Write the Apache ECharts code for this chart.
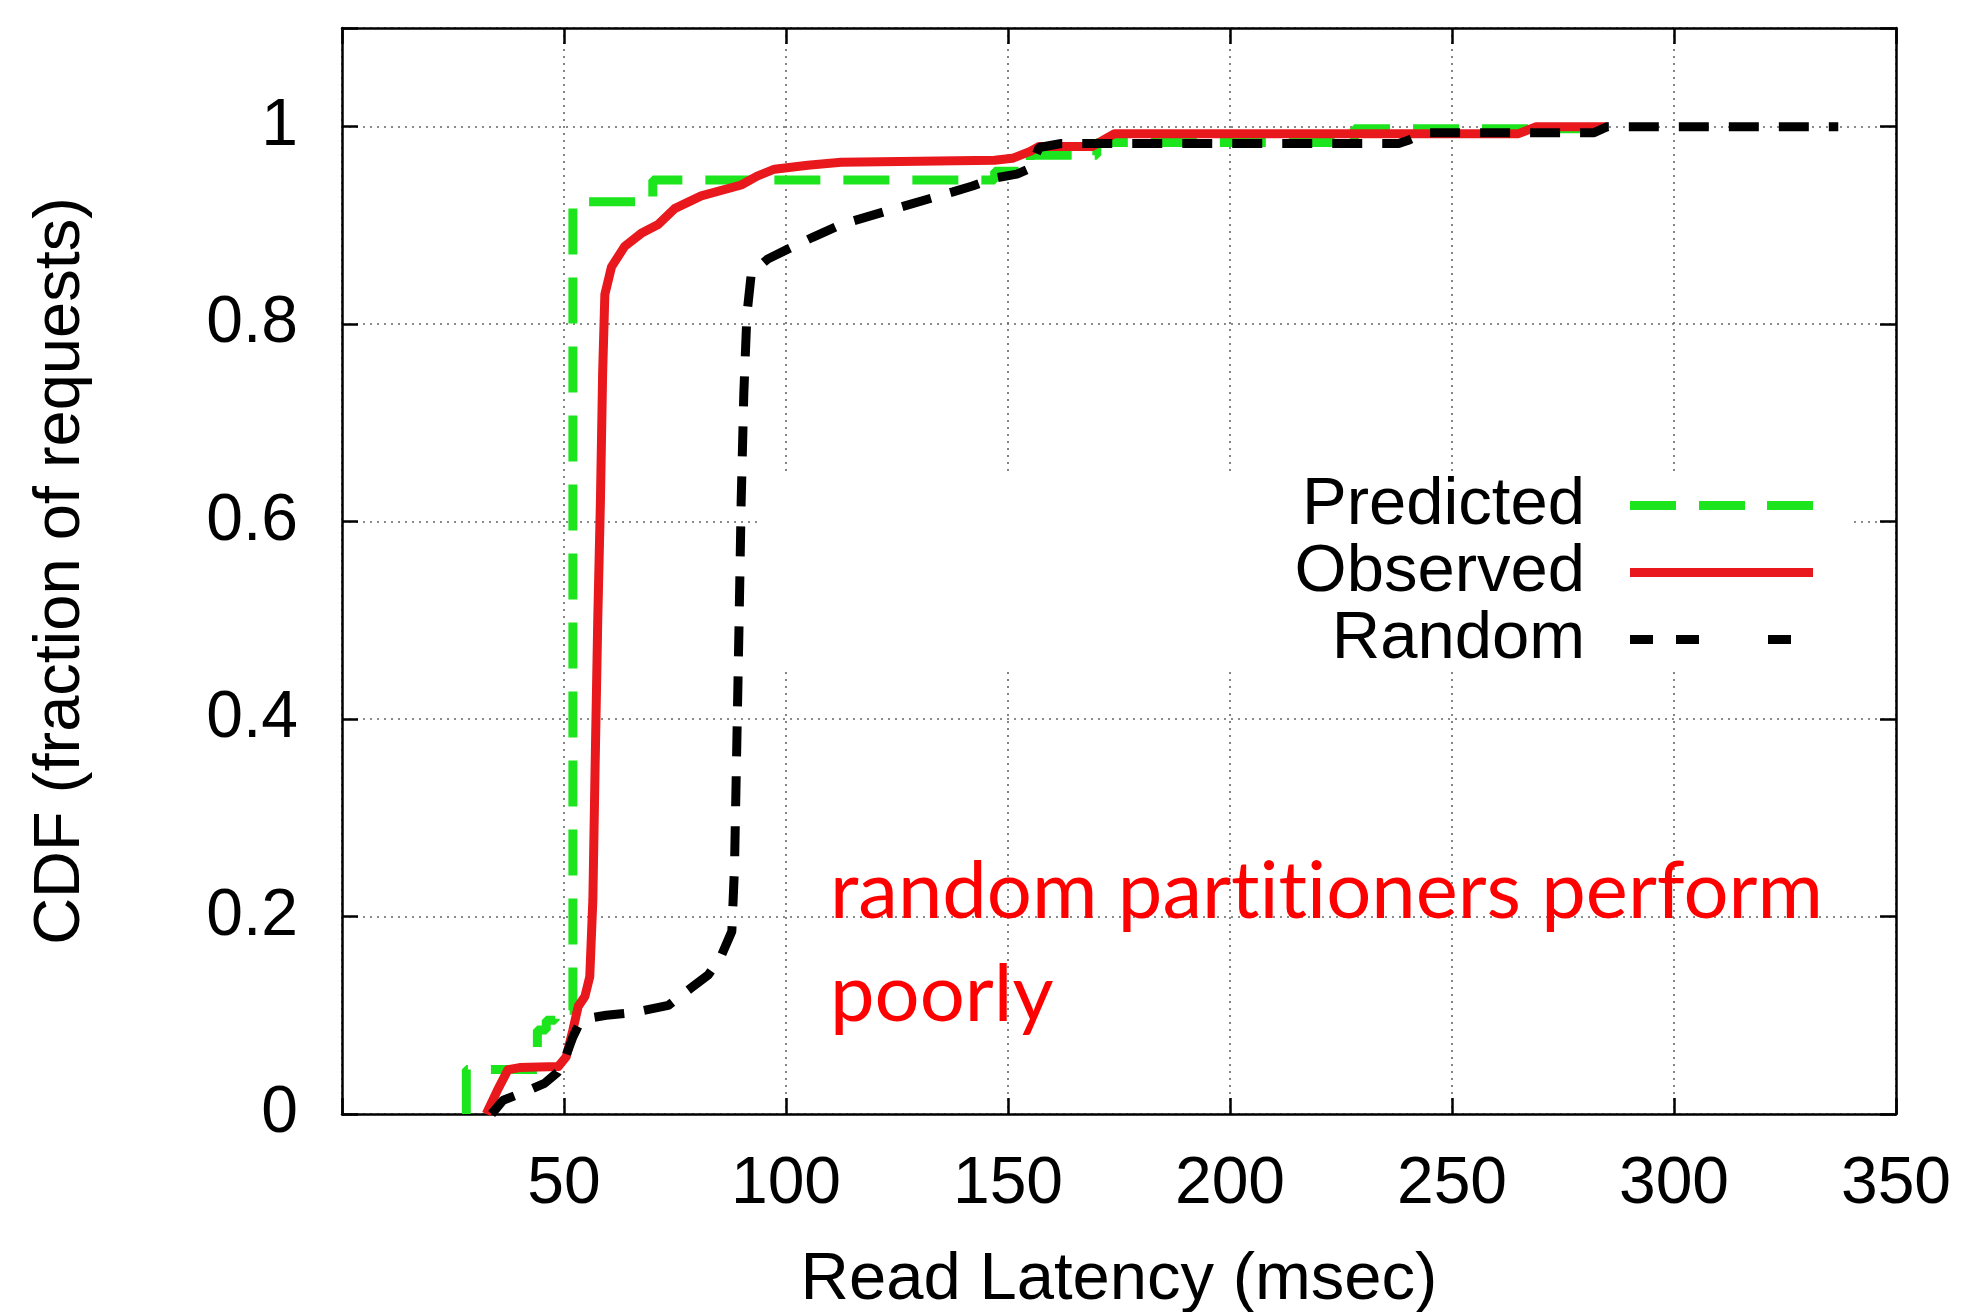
<!DOCTYPE html>
<html>
<head>
<meta charset="utf-8">
<title>CDF of read latency</title>
<script src="https://cdn.jsdelivr.net/npm/echarts@6/dist/echarts.min.js"></script>
<style>
    html, body { margin: 0; padding: 0; background: #fff; }
    #container { width: 1972px; height: 1312px; }
</style>
</head>
<body>
<div id="container"></div>
<script>
// CDF points: [latency msec, fraction]
var predicted = [[28,0],[28,0.045],[44,0.045],[44,0.085],[46,0.085],[46,0.095],[48,0.095],[48,0.105],
    [52,0.105],[52,0.924],[70,0.924],[70,0.946],[147,0.946],[147,0.955],[155,0.955],[155,0.971],
    [170,0.971],[170,0.984],[228,0.984],[228,0.998],[283,0.998]];

var observed = [[32.5,0],[35,0.024],[37.4,0.045],[40,0.047],[48.7,0.048],[50.5,0.058],[52,0.085],
    [53.2,0.109],[54.7,0.119],[55.8,0.139],[56.5,0.217],[57,0.35],[57.6,0.5],[58.2,0.62],[58.7,0.75],
    [59.2,0.83],[60.7,0.858],[63.7,0.879],[67.4,0.892],[71.2,0.901],[74.9,0.917],[80.9,0.93],
    [89.9,0.941],[93.5,0.95],[97.4,0.957],[104.9,0.961],[112.4,0.964],[130,0.965],[147,0.966],
    [151,0.968],[155,0.975],[157,0.98],[169,0.98],[174,0.993],[265,0.993],[269,1.0],[285,1.0]];

var randomPart = [[33.7,0],[36.3,0.014],[41.5,0.023],[45.6,0.031],[48.5,0.042],[50.2,0.056],[52,0.078],
    [53.5,0.092],[55.5,0.097],[59.5,0.1],[66,0.103],[73.5,0.11],[78.7,0.128],[82.5,0.141],[85.2,0.158],
    [87.8,0.185],[88.4,0.25],[88.9,0.37],[89.4,0.49],[89.9,0.62],[90.5,0.73],[91.2,0.81],[92.2,0.852],
    [95.9,0.866],[100.4,0.876],[106,0.888],[112.4,0.901],[123,0.915],[137.6,0.934],[142,0.94],
    [147,0.948],[152,0.952],[155,0.958],[157,0.979],[162,0.983],[238,0.983],[240,0.986],[244,0.994],
    [282,0.994],[285,1.0],[337,1.0]];

var seriesNames = ['Predicted', 'Observed', 'Random'];
var noteLines = ['random partitioners perform', 'poorly'];

var font = '"Liberation Sans", Arial, Helvetica, sans-serif';

// legend keys drawn as gnuplot-like dash samples (183 x 9 box)
var keyIcons = [
    'path://M0,0h46v9h-46z M69,0h46v9h-46z M137,0h46v9h-46z',
    'path://M0,0h183v9h-183z',
    'path://M0,0h23v9h-23z M46,0h23v9h-23z M138,0h23v9h-23z M182.95,0h0.05v0.02h-0.05z'
];

// fit the red note to the width it has in the picture
function fitSize(text, family, width) {
    var ctx = document.createElement('canvas').getContext('2d');
    ctx.font = '100px ' + family;
    return 100 * width / ctx.measureText(text).width;
}
var noteSize = fitSize(noteLines[0], 'Lato', 996);

// split the word so Lato does not draw its "ti" ligature
function noLig(s) {
    return s.split(/(?<=t)(?=i)/).map(function (p) { return '{n|' + p + '}'; }).join('');
}

var dom = document.getElementById('container');
var myChart = echarts.init(dom);

var frameAxis = {
    axisLine: { show: true, onZero: false, lineStyle: { color: '#000', width: 2.5 } },
    axisTick: { show: true, inside: true, length: 16, lineStyle: { color: '#000', width: 2.5 } },
    axisLabel: { show: false },
    splitLine: { show: false }
};

var gridLine = { show: true, lineStyle: { color: '#666', width: 1.6, type: [2, 5] } };

var noteStyle = { fontFamily: 'Lato', fontSize: noteSize, fill: '#ff0000' };

option = {
    animation: false,
    backgroundColor: '#fff',
    grid: { left: 342, right: 76, top: 28, bottom: 198, outerBoundsMode: 'none', containLabel: false },
    legend: {
        orient: 'vertical',
        align: 'right',
        right: 159,
        top: 472,
        padding: 0,
        itemGap: 0,
        itemWidth: 183,
        itemHeight: 9,
        textStyle: { fontFamily: font, fontSize: 67, color: '#000', lineHeight: 66, padding: [0, 40, 0, 0] },
        data: [
            { name: seriesNames[0], icon: keyIcons[0] },
            { name: seriesNames[1], icon: keyIcons[1] },
            { name: seriesNames[2], icon: keyIcons[2] }
        ]
    },
    xAxis: [
        {
            type: 'value', position: 'bottom', min: 0, max: 350, interval: 50,
            name: 'Read Latency (msec)', nameLocation: 'middle', nameGap: 133,
            nameTextStyle: { fontFamily: font, fontSize: 67, color: '#000' },
            axisLine: { show: true, onZero: false, lineStyle: { color: '#000', width: 2.5 } },
            axisTick: { show: true, inside: true, length: 16, lineStyle: { color: '#000', width: 2.5 } },
            axisLabel: {
                fontFamily: font, fontSize: 66, color: '#000', margin: 38,
                formatter: function (v) { return v === 0 ? '' : String(v); }
            },
            splitLine: gridLine
        },
        Object.assign({ type: 'value', position: 'top', min: 0, max: 350, interval: 50 }, frameAxis)
    ],
    yAxis: [
        {
            type: 'value', position: 'left', min: 0, max: 1.1, interval: 0.2,
            name: 'CDF (fraction of requests)', nameLocation: 'middle', nameGap: 248,
            nameTextStyle: { fontFamily: font, fontSize: 65, color: '#000' },
            axisLine: { show: true, onZero: false, lineStyle: { color: '#000', width: 2.5 } },
            axisTick: { show: true, inside: true, length: 16, lineStyle: { color: '#000', width: 2.5 } },
            axisLabel: {
                fontFamily: font, fontSize: 66, color: '#000', margin: 44,
                formatter: function (v) { return v > 1.001 ? '' : String(+v.toFixed(1)); }
            },
            splitLine: gridLine
        },
        Object.assign({ type: 'value', position: 'right', min: 0, max: 1.1, interval: 0.2 }, frameAxis)
    ],
    graphic: [
        // gnuplot's opaque key box hides the grid behind the legend
        { type: 'rect', z: 1, silent: true, shape: { x: 760, y: 473, width: 1090, height: 197 }, style: { fill: '#fff' } },
        { type: 'text', z: 10, x: 830, y: 919 - noteSize * 0.33,
          style: { text: noLig(noteLines[0]), fontFamily: 'Lato', fontSize: noteSize, fill: '#ff0000',
                   verticalAlign: 'middle', rich: { n: noteStyle } } },
        { type: 'text', z: 10, x: 830, y: 1022 - noteSize * 0.33,
          style: { text: noteLines[1], fontFamily: 'Lato', fontSize: noteSize, fill: '#ff0000', verticalAlign: 'middle' } }
    ],
    series: [
        {
            name: seriesNames[0], type: 'line', data: predicted, symbol: 'none', z: 2,
            lineStyle: { color: '#1de51d', width: 9, type: [46, 23], cap: 'butt' },
            itemStyle: { color: '#1de51d' }
        },
        {
            name: seriesNames[1], type: 'line', data: observed, symbol: 'none', z: 3,
            lineStyle: { color: '#e8181c', width: 9, join: 'round' },
            itemStyle: { color: '#e8181c' }
        },
        {
            name: seriesNames[2], type: 'line', data: randomPart, symbol: 'none', z: 4,
            lineStyle: { color: '#000', width: 9, type: [30, 20], cap: 'butt' },
            itemStyle: { color: '#000' }
        }
    ]
};

if (option && typeof option === "object") {
    myChart.setOption(option, true);
}
</script>
</body>
</html>
